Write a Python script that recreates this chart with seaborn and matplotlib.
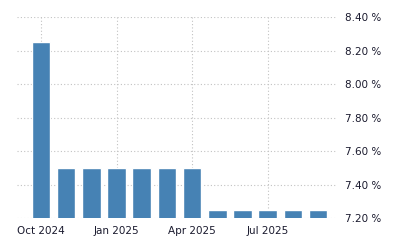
import matplotlib
matplotlib.use("Agg")
import matplotlib.pyplot as plt
import seaborn as sns
import pandas as pd

months = ["Oct 2024", "Nov 2024", "Dec 2024", "Jan 2025", "Feb 2025", "Mar 2025",
          "Apr 2025", "May 2025", "Jun 2025", "Jul 2025", "Aug 2025", "Sep 2025"]
rates = [8.25, 7.50, 7.50, 7.50, 7.50, 7.50, 7.50, 7.25, 7.25, 7.25, 7.25, 7.25]
xtick_labels = ["Oct 2024", "Jan 2025", "Apr 2025", "Jul 2025"]
ytick_values = [7.20, 7.40, 7.60, 7.80, 8.00, 8.20, 8.40]

df = pd.DataFrame({"month": months, "rate": rates})

sns.set_style("white")
plt.rcParams['font.family'] = ['DejaVu Sans']

fig = plt.figure(figsize=(4, 2.5), dpi=100)
ax = fig.add_axes([0.0425, 0.128, 0.8, 0.804])

sns.barplot(data=df, x="month", y="rate", color="#4682B4", width=0.74,
            saturation=1, ax=ax, zorder=3)

ax.set_ylim(7.20, 8.40)
ax.set_xlim(-0.95, 11.75)
ax.set_yticks(ytick_values)
ax.set_yticklabels([f"{v:.2f} %" for v in ytick_values])
ax.yaxis.tick_right()
ax.tick_params(axis="y", length=0, pad=6, labelsize=7.5, labelcolor="#1a1a2e")

tick_pos = [months.index(m) for m in xtick_labels]
ax.set_xticks(tick_pos)
ax.set_xticklabels(xtick_labels)
ax.tick_params(axis="x", length=3.5, width=0.75, color="#cccccc", pad=2,
               labelsize=7.5, labelcolor="#1a1a2e")

ax.grid(True, axis="both", linestyle=(0, (1, 2)), color="#c2c2c2", linewidth=0.8, zorder=0)
ax.set_axisbelow(True)
for s in ax.spines.values():
    s.set_visible(False)
ax.set_xlabel("")
ax.set_ylabel("")

fig.savefig("out.png", dpi=100)
